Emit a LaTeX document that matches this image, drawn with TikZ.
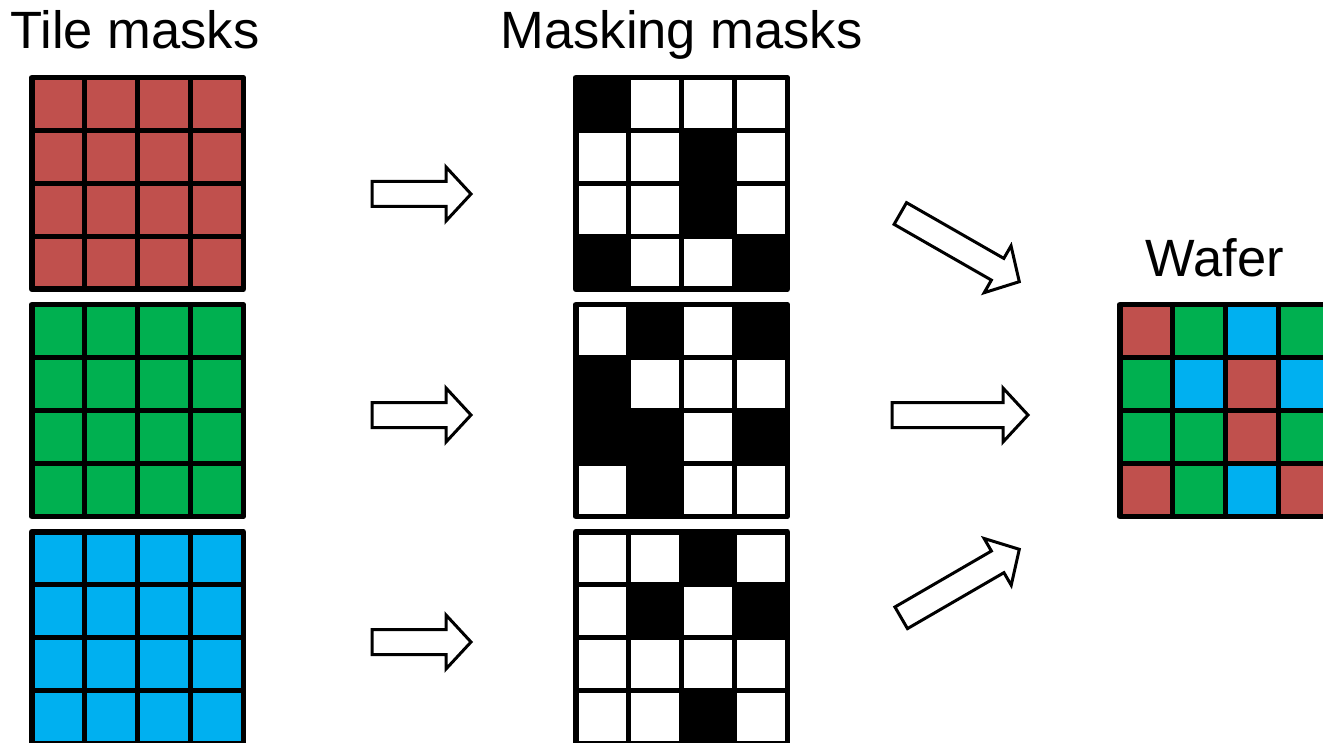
\documentclass[tikz,border=0pt]{standalone}
\usepackage{fontspec}
\setmainfont{Liberation Sans}
\usetikzlibrary{calc}
\definecolor{tR}{HTML}{C0504D}
\definecolor{tG}{HTML}{00B050}
\definecolor{tB}{HTML}{00B0F0}
\definecolor{tK}{HTML}{000000}
\definecolor{tW}{HTML}{FFFFFF}
\tikzset{
  gridline/.style={draw=black, line width=5.5pt, line join=round},
  gridbox/.style={minimum size=217pt, inner sep=0pt, outer sep=0pt},
  blockarr/.style={draw=black, fill=white, line width=3pt, line join=miter},
  titletext/.style={font=\fontsize{52.5}{62}\selectfont, inner sep=0pt, anchor=base}
}
\newcommand\cellgrid[4]{%
  \foreach \cc [count=\i from 0] in {#4}{%
    \pgfmathtruncatemacro\rr{int(\i/4)}%
    \pgfmathtruncatemacro\kk{mod(\i,4)}%
    \fill[\cc] ({#2+2.75+\kk*52.875},{#3+2.75+\rr*52.875}) rectangle ++(52.875,52.875);
  }
  \foreach \k in {0,...,4}{%
    \draw[gridline] ({#2+2.75+\k*52.875},{#3+2.75}) -- ++(0,211.5);
    \draw[gridline] ({#2+2.75},{#3+2.75+\k*52.875}) -- ++(211.5,0);
  }
  \draw[gridline] ({#2+2.75},{#3+2.75}) rectangle ++(211.5,211.5);
  \node[gridbox] (#1) at ({#2+108.5},{#3+108.5}) {};
}
\newcommand\blockarrow[2]{%
  \draw[blockarr] let \p1=(#1), \p2=(#2),
      \n1={atan2(\y2-\y1,\x2-\x1)},
      \n2={veclen(\x2-\x1,\y2-\y1)-25pt} in
    (\p1) ++(\n1+90:12.5pt) -- ++(\n1:\n2) -- ++(\n1+90:14.5pt) -- (\p2)
    -- ++(\n1-132.8:36.8pt) -- ++(\n1+90:14.5pt) -- ++(\n1+180:\n2) -- cycle;
}
\begin{document}
\begin{tikzpicture}[x=1pt, y=-1pt]
\useasboundingbox (0,0) rectangle (1323,743);
\clip (0,0) rectangle (1323,743);

% titles
\node[titletext] (ttile) at (135,48.5) {Tile masks};
\node[titletext] (tmask) at (681.5,48.5) {Masking masks};
\node[titletext] (twafer) at (1215,277) {Wafer};

% tile masks
\cellgrid{tileR}{29}{75}{tR,tR,tR,tR, tR,tR,tR,tR, tR,tR,tR,tR, tR,tR,tR,tR}
\cellgrid{tileG}{29}{302}{tG,tG,tG,tG, tG,tG,tG,tG, tG,tG,tG,tG, tG,tG,tG,tG}
\cellgrid{tileB}{29}{529}{tB,tB,tB,tB, tB,tB,tB,tB, tB,tB,tB,tB, tB,tB,tB,tB}

% masking masks
\cellgrid{maskR}{573}{75}{tK,tW,tW,tW, tW,tW,tK,tW, tW,tW,tK,tW, tK,tW,tW,tK}
\cellgrid{maskG}{573}{302}{tW,tK,tW,tK, tK,tW,tW,tW, tK,tK,tW,tK, tW,tK,tW,tW}
\cellgrid{maskB}{573}{529}{tW,tW,tK,tW, tW,tK,tW,tK, tW,tW,tW,tW, tW,tW,tK,tW}

% wafer
\cellgrid{wafer}{1117}{302}{tR,tG,tB,tG, tG,tB,tR,tB, tG,tG,tR,tG, tR,tG,tB,tR}

% arrow end points
\coordinate (a1s) at (372,194);   \coordinate (a1e) at (471,194);
\coordinate (a2s) at (372,415);   \coordinate (a2e) at (471,415);
\coordinate (a3s) at (372,642);   \coordinate (a3e) at (471,642);
\coordinate (b1s) at (900.3,213.5); \coordinate (b1e) at (1019.3,281.7);
\coordinate (b2s) at (892,415);   \coordinate (b2e) at (1028,415);
\coordinate (b3s) at (901.2,617.8); \coordinate (b3e) at (1019.3,549.3);

\blockarrow{a1s}{a1e}
\blockarrow{a2s}{a2e}
\blockarrow{a3s}{a3e}
\blockarrow{b1s}{b1e}
\blockarrow{b2s}{b2e}
\blockarrow{b3s}{b3e}
\end{tikzpicture}
\end{document}
